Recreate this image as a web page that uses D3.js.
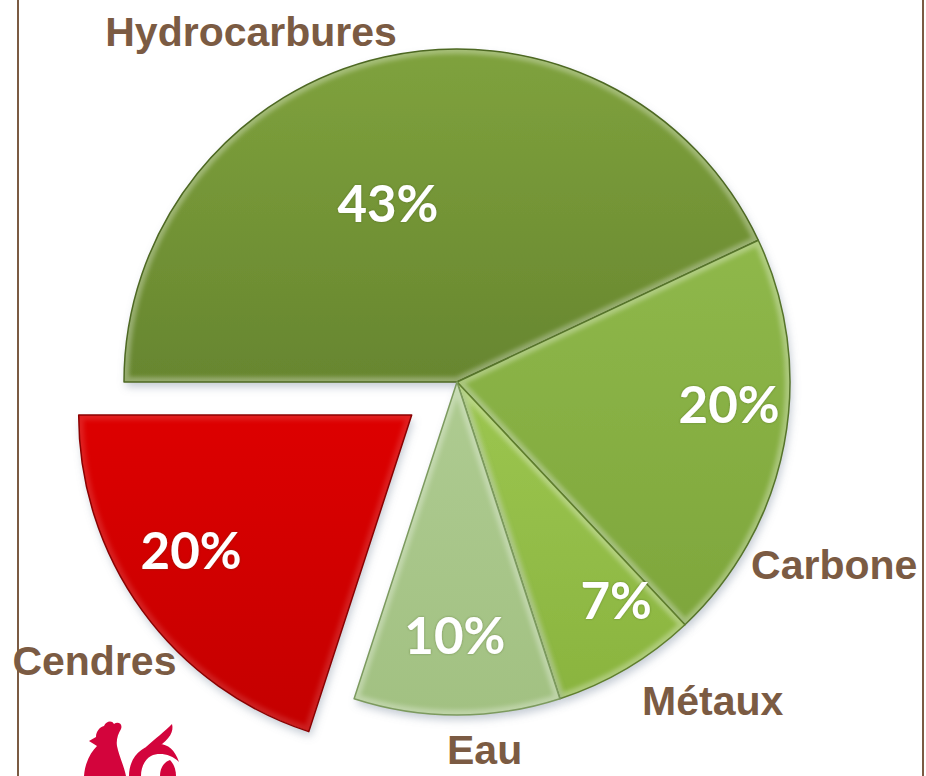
<!DOCTYPE html>
<html>
<head>
<meta charset="utf-8">
<script src="https://cdn.jsdelivr.net/npm/d3@7"></script>
<style>
  html, body { margin: 0; padding: 0; background: #fff; }
  svg { display: block; }
</style>
</head>
<body>
<svg id="chart" width="926" height="776"></svg>
<script>
const categories = ["Hydrocarbures", "Carbone", "Métaux", "Eau", "Cendres"];
const values = [43, 20, 7, 10, 20];

const width = 926;
const height = 776;
const cx = 457;
const cy = 382;
const radius = 333;
const brown = "#7b5b43";

const data = categories.map((c, i) => ({ name: c, value: values[i] }));

const svg = d3.select("#chart");

const fillTop = d3.scaleOrdinal().domain(categories)
  .range(["#7fa23d", "#8fb84a", "#9cc650", "#aecb91", "#dd0000"]);
const fillBottom = d3.scaleOrdinal().domain(categories)
  .range(["#67862f", "#7ea63c", "#8ab43f", "#a2c182", "#c40000"]);
const edge = d3.scaleOrdinal().domain(categories)
  .range(["#4d6822", "#56742a", "#5f7e2c", "#7c9a5e", "#8a0000"]);

// only the ash slice is pulled out
const explode = d3.scaleOrdinal().domain(categories).range([0, 0, 0, 0, 56]);

// angle nudge (deg) and radius for the percent labels
const pctPlace = {
  Hydrocarbures: [-8.6, 191], Carbone: [-6, 273], "Métaux": [-5.5, 270],
  Eau: [0.5, 254], Cendres: [4.4, 259]
};
// angle nudge (deg) and radius for the category names
const namePlace = {
  Hydrocarbures: [-17.8, 407], Carbone: [15, 419], "Métaux": [-8.2, 408],
  Eau: [-4.3, 368], Cendres: [-1.7, 401]
};

const pie = d3.pie().sort(null).value((d) => d.value)
  .startAngle(-Math.PI / 2).endAngle(Math.PI * 1.5);
const arc = d3.arc().innerRadius(0).outerRadius(radius);
const arcs = pie(data);

const polar = (a, r) => [r * Math.sin(a), -r * Math.cos(a)];
const mid = (d) => (d.startAngle + d.endAngle) / 2;
const shift = (d) => polar(mid(d), explode(d.data.name));
const rad = (deg) => (deg * Math.PI) / 180;

const defs = svg.append("defs");

const shadow = defs.append("filter").attr("id", "shadow")
  .attr("x", "-20%").attr("y", "-20%").attr("width", "140%").attr("height", "140%");
shadow.append("feDropShadow").attr("dx", 2).attr("dy", 5).attr("stdDeviation", 4)
  .attr("flood-color", "#7f8ea0").attr("flood-opacity", 0.45);

const soft = defs.append("filter").attr("id", "soft");
soft.append("feGaussianBlur").attr("stdDeviation", 2.2);

const glow = defs.append("filter").attr("id", "glow")
  .attr("x", "-20%").attr("y", "-20%").attr("width", "140%").attr("height", "140%");
glow.append("feGaussianBlur").attr("in", "SourceAlpha").attr("stdDeviation", 1.2).attr("result", "b");
glow.append("feFlood").attr("flood-color", "#3c4a20").attr("flood-opacity", 0.45);
glow.append("feComposite").attr("in2", "b").attr("operator", "in").attr("result", "s");
const gm = glow.append("feMerge");
gm.append("feMergeNode").attr("in", "s");
gm.append("feMergeNode").attr("in", "SourceGraphic");

arcs.forEach((d, i) => {
  const g = defs.append("linearGradient").attr("id", "grad" + i)
    .attr("x1", 0).attr("y1", 0).attr("x2", 0).attr("y2", 1);
  g.append("stop").attr("offset", "0%").attr("stop-color", fillTop(d.data.name));
  g.append("stop").attr("offset", "100%").attr("stop-color", fillBottom(d.data.name));
  defs.append("clipPath").attr("id", "clip" + i)
    .append("path").attr("d", arc(d));
});

// frame lines
svg.append("line").attr("x1", 18).attr("x2", 18).attr("y1", 0).attr("y2", height)
  .attr("stroke", brown).attr("stroke-width", 2);
svg.append("line").attr("x1", 923).attr("x2", 923).attr("y1", 0).attr("y2", height)
  .attr("stroke", brown).attr("stroke-width", 2);

const pieG = svg.append("g").attr("transform", `translate(${cx},${cy})`);

const slices = pieG.selectAll(".slice")
  .data(arcs)
  .enter()
  .append("g")
  .attr("class", "slice")
  .attr("transform", (d) => `translate(${shift(d)})`);

slices.append("path")
  .attr("d", arc)
  .attr("fill", (d, i) => `url(#grad${i})`)
  .attr("filter", "url(#shadow)");

// bevel highlight inside each slice
slices.append("g")
  .attr("clip-path", (d, i) => `url(#clip${i})`)
  .append("path")
  .attr("d", arc)
  .attr("fill", "none")
  .attr("stroke", "#ffffff")
  .attr("stroke-opacity", (d) => (d.data.name === "Cendres" ? 0.12 : 0.3))
  .attr("stroke-width", 10)
  .attr("filter", "url(#soft)");

slices.append("path")
  .attr("d", arc)
  .attr("fill", "none")
  .attr("stroke", (d) => edge(d.data.name))
  .attr("stroke-width", 1.5)
  .attr("stroke-linejoin", "round");

// percent labels
slices.append("text")
  .attr("transform", (d) => {
    const p = pctPlace[d.data.name];
    return `translate(${polar(mid(d) + rad(p[0]), p[1])})`;
  })
  .attr("text-anchor", "middle")
  .attr("dy", "0.36em")
  .attr("font-family", "Lato, 'Open Sans', sans-serif")
  .attr("font-weight", 700)
  .attr("font-size", 51)
  .attr("fill", "#ffffff")
  .attr("filter", "url(#glow)")
  .text((d) => `${d.data.value}%`);

// category names
pieG.selectAll(".name")
  .data(arcs)
  .enter()
  .append("text")
  .attr("class", "name")
  .attr("transform", (d) => {
    const p = namePlace[d.data.name];
    const s = shift(d);
    const q = polar(mid(d) + rad(p[0]), p[1]);
    return `translate(${q[0] + s[0]},${q[1] + s[1]})`;
  })
  .attr("text-anchor", "middle")
  .attr("dy", "0.36em")
  .attr("font-family", "'Liberation Sans', Arial, sans-serif")
  .attr("font-weight", 700)
  .attr("font-size", 41)
  .attr("fill", brown)
  .text((d) => d.data.name);

// rooster logo (decoration)
const logo = svg.append("g").attr("fill", "#d3043c");
logo.append("path").attr("d",
  "M84 776 C85 762 91 752 97 746 L89 741 L96 737 C96 731 100 727 104 726 " +
  "C106 721 112 720 114 724 C118 721 123 724 121 729 C118 734 116 740 117 746 " +
  "C119 756 124 766 126 776 Z");
logo.append("path").attr("d",
  "M129 776 C129 758 141 745 159 744 C168 744 175 750 179 762 " +
  "C171 754 159 752 151 756 C144 760 141 768 141 776 Z");
logo.append("path").attr("d",
  "M146 747 C155 739 165 731 172 724 C174 731 170 739 158 747 Z");
logo.append("path").attr("d",
  "M160 776 C160 768 164 762 170 760 C174 764 176 770 176 776 Z");
</script>
</body>
</html>
